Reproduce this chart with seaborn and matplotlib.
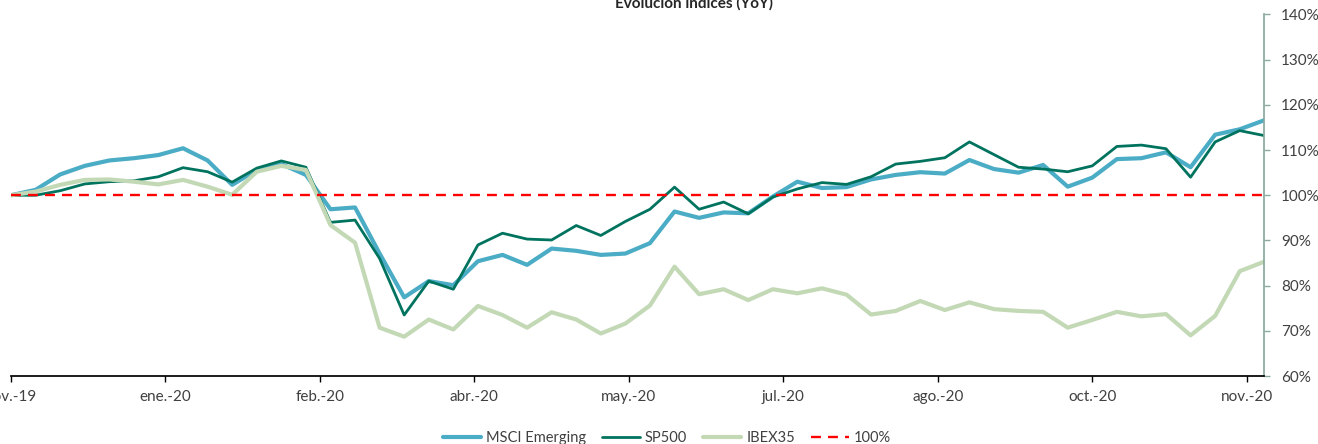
import matplotlib
matplotlib.use("Agg")
import matplotlib.pyplot as plt
import matplotlib.ticker as mticker
import seaborn as sns
import pandas as pd

# weekly YoY index levels (%), first week = 100
start = "2019-11-29"
msci = [100.0, 101.2, 104.6, 106.5, 107.7, 108.2, 108.9, 110.4, 107.7, 102.3,
        105.6, 106.9, 104.5, 96.9, 97.3, 87.1, 77.4, 81.0, 80.1, 85.4,
        86.8, 84.6, 88.2, 87.7, 86.8, 87.1, 89.4, 96.4, 95.0, 96.2,
        96.0, 99.7, 103.0, 101.6, 101.8, 103.5, 104.5, 105.1, 104.8, 107.8,
        105.8, 105.0, 106.7, 101.9, 103.9, 108.0, 108.2, 109.5, 106.2, 113.4,
        114.6, 116.6]
sp500 = [100.0, 100.0, 101.0, 102.5, 103.0, 103.2, 104.1, 106.1, 105.2, 102.9,
         106.0, 107.6, 106.2, 94.0, 94.5, 86.0, 73.5, 81.0, 79.2, 89.0,
         91.6, 90.3, 90.1, 93.3, 91.1, 94.2, 96.9, 101.8, 96.9, 98.5,
         95.9, 99.6, 101.4, 102.8, 102.4, 104.1, 106.9, 107.5, 108.3, 111.8,
         109.0, 106.2, 105.8, 105.2, 106.5, 110.8, 111.1, 110.3, 104.0, 111.8,
         114.3, 113.2]
ibex = [100.0, 100.8, 102.3, 103.4, 103.5, 103.0, 102.4, 103.4, 101.9, 100.1,
        105.2, 106.5, 105.6, 93.4, 89.5, 70.7, 68.7, 72.5, 70.3, 75.5,
        73.5, 70.7, 74.1, 72.5, 69.4, 71.6, 75.6, 84.2, 78.1, 79.2,
        76.8, 79.2, 78.3, 79.4, 78.0, 73.6, 74.4, 76.6, 74.6, 76.3,
        74.8, 74.4, 74.2, 70.7, 72.4, 74.2, 73.2, 73.7, 69.0, 73.3,
        83.2, 85.3]
month_labels = ["nov.-19", "ene.-20", "feb.-20", "abr.-20", "may.-20",
                "jul.-20", "ago.-20", "oct.-20", "nov.-20"]
y_ticks = [60, 70, 80, 90, 100, 110, 120, 130, 140]

df = pd.DataFrame({"fecha": pd.date_range(start, periods=len(msci), freq="7D"),
                   "msci": msci, "sp500": sp500, "ibex": ibex})
tick_dates = pd.date_range(start, periods=len(month_labels), freq="44D")

sns.set_theme(style="white")
plt.rcParams['font.family'] = ['Lato', 'DejaVu Sans']
txt = "#404040"

fig = plt.figure(figsize=(13.18, 4.44), dpi=100)
ax = fig.add_axes([11 / 1318, 1 - 376 / 444, (1264.3 - 11) / 1318, (376 - 14.5) / 444])

sns.lineplot(data=df, x="fecha", y="msci", ax=ax, color="#4BACC6", lw=3.0, label="MSCI Emerging")
sns.lineplot(data=df, x="fecha", y="sp500", ax=ax, color="#00735F", lw=2.0, label="SP500")
sns.lineplot(data=df, x="fecha", y="ibex", ax=ax, color="#C3D9B6", lw=3.0, label="IBEX35")
ax.axhline(100, color="#FF0000", lw=1.7, dashes=(4.2, 3.0), label="100%")

ax.set_xlim(df["fecha"].iloc[0], df["fecha"].iloc[-1])
ax.set_ylim(60, 140)
ax.set_xticks(tick_dates)
ax.set_xticklabels(month_labels)
ax.yaxis.tick_right()
ax.set_yticks(y_ticks)
ax.yaxis.set_major_formatter(mticker.FuncFormatter(lambda v, p: f"{v:.0f}%"))
ax.set_xlabel("")
ax.set_ylabel("")

for s in ["top", "left"]:
    ax.spines[s].set_visible(False)
ax.spines["right"].set_color("#8AAA9F")
ax.spines["bottom"].set_color("#000000")
ax.tick_params(axis="x", direction="out", length=4, width=1, color="#000000",
               pad=6, labelsize=11, labelcolor=txt, bottom=True)
ax.tick_params(axis="y", direction="out", length=4, width=1, color="#8AAA9F",
               pad=8, labelsize=11, labelcolor=txt, right=True, left=False)

fig.text(694 / 1318, 1 - 7.5 / 444, "Evolución índices (YoY)", ha="center", va="baseline",
         fontsize=11, fontweight="bold", color="#262626")

handles, labels = ax.get_legend_handles_labels()
ax.get_legend().remove()
fig.legend(handles, labels, loc="center", bbox_to_anchor=(667 / 1318, 1 - 438 / 444),
           ncol=4, frameon=False, fontsize=10.5, handlelength=2.6, handletextpad=0.35,
           columnspacing=1.1, labelcolor=txt)

fig.savefig("out.png", dpi=100)
